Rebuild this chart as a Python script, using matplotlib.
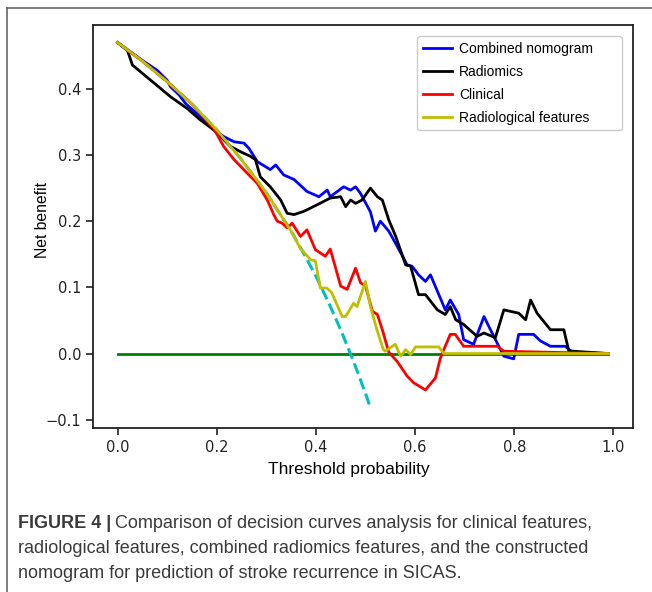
import numpy as np
import matplotlib
matplotlib.use('Agg')
import matplotlib.pyplot as plt
from matplotlib.lines import Line2D

# threshold / net benefit
nomo_x = [0.0, 0.05, 0.08, 0.10, 0.107, 0.124, 0.137, 0.167, 0.194, 0.214, 0.235, 0.255, 0.265, 0.282,
          0.308, 0.319, 0.335, 0.356, 0.382, 0.406, 0.423, 0.429, 0.456, 0.47, 0.48, 0.49, 0.51, 0.52,
          0.53, 0.547, 0.564, 0.584, 0.594, 0.607, 0.621, 0.631, 0.661, 0.671, 0.688, 0.698, 0.718,
          0.739, 0.752, 0.779, 0.799, 0.809, 0.839, 0.853, 0.873, 0.903, 0.917, 0.99]
nomo_y = [0.47, 0.443, 0.428, 0.413, 0.403, 0.391, 0.378, 0.358, 0.338, 0.328, 0.320, 0.318, 0.310, 0.290,
          0.278, 0.285, 0.270, 0.263, 0.245, 0.237, 0.247, 0.237, 0.252, 0.247, 0.252, 0.242, 0.214, 0.185,
          0.200, 0.185, 0.162, 0.134, 0.132, 0.119, 0.109, 0.119, 0.066, 0.081, 0.059, 0.021, 0.014,
          0.056, 0.036, -0.004, -0.008, 0.029, 0.029, 0.019, 0.011, 0.011, 0.002, 0.0]

radio_x = [0.0, 0.02, 0.03, 0.107, 0.141, 0.167, 0.194, 0.228, 0.248, 0.268, 0.278, 0.288, 0.308, 0.329,
           0.342, 0.356, 0.376, 0.403, 0.416, 0.429, 0.45, 0.46, 0.47, 0.48, 0.493, 0.51, 0.524, 0.534,
           0.547, 0.561, 0.581, 0.591, 0.607, 0.621, 0.645, 0.661, 0.671, 0.682, 0.698, 0.725, 0.739,
           0.762, 0.779, 0.809, 0.823, 0.833, 0.846, 0.873, 0.90, 0.91, 0.99]
radio_y = [0.47, 0.458, 0.436, 0.388, 0.370, 0.353, 0.338, 0.313, 0.305, 0.298, 0.293, 0.267, 0.252, 0.232,
           0.212, 0.210, 0.215, 0.225, 0.230, 0.235, 0.237, 0.222, 0.232, 0.227, 0.232, 0.250, 0.237, 0.232,
           0.202, 0.177, 0.134, 0.132, 0.089, 0.089, 0.066, 0.059, 0.071, 0.051, 0.044, 0.026, 0.031,
           0.024, 0.066, 0.061, 0.051, 0.081, 0.061, 0.036, 0.036, 0.004, 0.0]

clin_x = [0.0, 0.05, 0.10, 0.15, 0.194, 0.214, 0.235, 0.261, 0.282, 0.302, 0.315, 0.322, 0.332, 0.342,
          0.352, 0.369, 0.382, 0.399, 0.419, 0.429, 0.45, 0.463, 0.48, 0.49, 0.50, 0.514, 0.524, 0.534,
          0.547, 0.564, 0.584, 0.597, 0.621, 0.641, 0.651, 0.658, 0.671, 0.681, 0.698, 0.766, 0.779, 0.99]
clin_y = [0.47, 0.442, 0.411, 0.377, 0.340, 0.313, 0.293, 0.273, 0.257, 0.232, 0.210, 0.200, 0.197, 0.190,
          0.197, 0.177, 0.187, 0.157, 0.147, 0.158, 0.102, 0.097, 0.129, 0.107, 0.102, 0.064, 0.059, 0.036,
          0.002, -0.012, -0.034, -0.044, -0.055, -0.037, -0.007, 0.006, 0.029, 0.029, 0.011, 0.011, 0.0035, 0.0]

rad_x = [0.0, 0.05, 0.10, 0.15, 0.20, 0.25, 0.30, 0.35, 0.37, 0.375, 0.389, 0.399, 0.409, 0.422, 0.432,
         0.453, 0.46, 0.476, 0.483, 0.50, 0.51, 0.523, 0.536, 0.54, 0.56, 0.571, 0.581, 0.591, 0.601,
         0.648, 0.658, 0.99]
rad_y = [0.47, 0.442, 0.411, 0.377, 0.338, 0.293, 0.243, 0.185, 0.157, 0.154, 0.142, 0.140, 0.099, 0.099,
         0.092, 0.056, 0.056, 0.076, 0.071, 0.109, 0.071, 0.036, 0.006, 0.0035, 0.014, -0.004, 0.006,
         -0.0015, 0.010, 0.010, 0.0, 0.0]

all_x = [0.0, 0.05, 0.10, 0.15, 0.20, 0.25, 0.30, 0.35, 0.375, 0.40, 0.425, 0.45, 0.475, 0.50, 0.51]
all_y = [0.47, 0.442, 0.411, 0.377, 0.338, 0.293, 0.243, 0.185, 0.152, 0.117, 0.078, 0.036, -0.010, -0.060, -0.082]

none_x = [0.0, 0.99]
none_y = [0.0, 0.0]

fig = plt.figure(figsize=(6.52, 5.92), dpi=100)
ax = fig.add_axes([93/652, 1-428/592, 540/652, 403/592])

ax.plot(none_x, none_y, color='g', lw=2)
ax.plot(all_x, all_y, color='c', lw=2.2, ls='--')
ax.plot(nomo_x, nomo_y, color='b', lw=2, label='Combined nomogram      ')
ax.plot(radio_x, radio_y, color='k', lw=2, label='Radiomics')
ax.plot(clin_x, clin_y, color='r', lw=2, label='Clinical')
ax.plot(rad_x, rad_y, color='y', lw=2, label='Radiological features')

ax.set_xlim(-0.0495, 1.0395)
ax.set_ylim(-0.1125, 0.4965)
ax.set_xticks([0.0, 0.2, 0.4, 0.6, 0.8, 1.0])
ax.set_yticks([-0.1, 0.0, 0.1, 0.2, 0.3, 0.4])
ax.tick_params(labelsize=10.5, length=5, width=1.2, colors='#222222')
for s in ax.spines.values():
    s.set_linewidth(1.3)
    s.set_color('#222222')

ax.set_xlabel('Threshold probability', fontsize=12.5, family='Liberation Sans', labelpad=5)
ax.xaxis.label.set_x(0.474)
ax.set_ylabel('Net benefit', fontsize=11.3, family='Liberation Sans')
ax.yaxis.set_label_coords(-0.08, 0.516)

leg = ax.legend(loc='upper right', prop={'family': 'Liberation Sans', 'size': 10},
                handlelength=2.1, handletextpad=0.5, labelspacing=0.65, borderaxespad=0.8,
                framealpha=1, edgecolor='#cccccc')

# outer frame of the figure panel
fig.add_artist(Line2D([7/652, 1.0], [1-8/592, 1-8/592], color='#666666', lw=1.2))
fig.add_artist(Line2D([7/652, 7/652], [0, 1-8/592], color='#666666', lw=1.2))

# caption
cap_kw = dict(family='Liberation Sans', fontsize=13, color='#3a3a3a', va='baseline')
bold = fig.text(18/652, 1-528/592, 'FIGURE 4 |', fontweight='bold', **cap_kw)
fig.canvas.draw()
bb = bold.get_window_extent(fig.canvas.get_renderer())
fig.text((bb.x1 + 4)/652, 1-528/592, 'Comparison of decision curves analysis for clinical features,', **cap_kw)
fig.text(18/652, 1-553/592, 'radiological features, combined radiomics features, and the constructed', **cap_kw)
fig.text(18/652, 1-578/592, 'nomogram for prediction of stroke recurrence in SICAS.', **cap_kw)

fig.savefig('out.png', dpi=100)
